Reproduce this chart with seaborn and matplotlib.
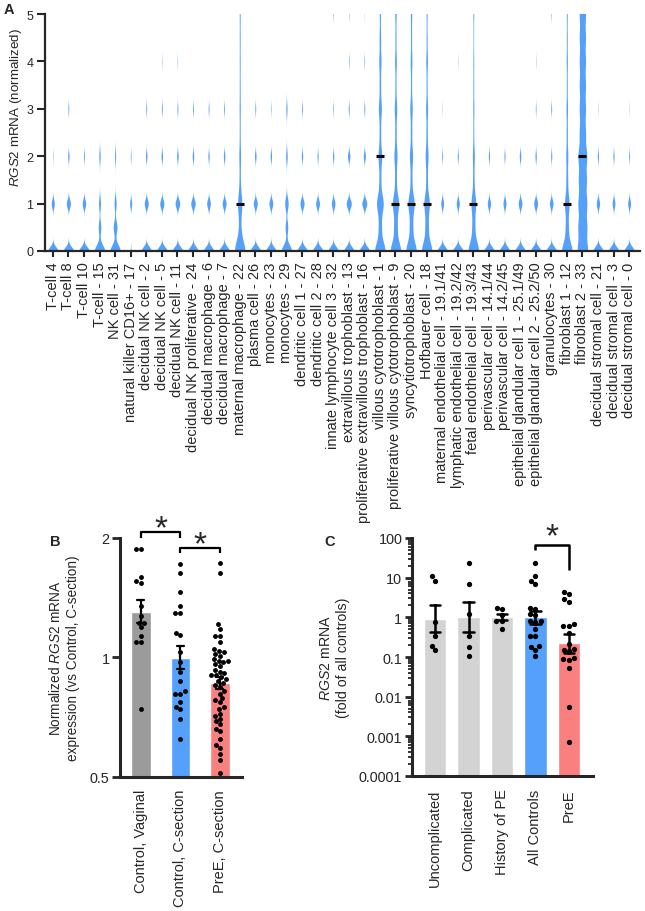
import numpy as np
import pandas as pd
import matplotlib
matplotlib.use('Agg')
import matplotlib.pyplot as plt
import matplotlib.ticker as mtick
import seaborn as sns

# ---- panel A: single-cell RGS2 expression per cluster ----
cell_types = [
    'T-cell 4', 'T-cell 8', 'T-cell 10', 'T-cell - 15', 'NK cell - 31',
    'natural killer CD16+ - 17', 'decidual NK cell - 2', 'decidual NK cell - 5',
    'decidual NK cell - 11', 'decidual NK proliferative - 24',
    'decidual macrophage - 6', 'decidual macrophage - 7',
    'maternal macrophage - 22', 'plasma cell - 26', 'monocytes - 23',
    'monocytes - 29', 'dendritic cell 1 - 27', 'dendritic cell 2 - 28',
    'innate lymphocyte cell 3 - 32', 'extravillous trophoblast - 13',
    'proliferative extravillous trophoblast - 16', 'villous cytotrophoblast - 1',
    'proliferative villous cytotrophoblast - 9', 'syncytiotrophoblast - 20',
    'Hofbauer cell - 18', 'maternal endothelial cell - 19.1/41',
    'lymphatic endothelial cell - 19.2/42', 'fetal endothelial cell - 19.3/43',
    'perivascular cell - 14.1/44', 'perivascular cell - 14.2/45',
    'epithelial glandular cell 1 - 25.1/49', 'epithelial glandular cell 2 - 25.2/50',
    'granulocytes - 30', 'fibroblast 1 - 12', 'fibroblast 2 - 33',
    'decidual stromal cell - 21', 'decidual stromal cell - 3', 'decidual stromal cell - 0',
]
# expression levels and number of cells found at each level (one row per cluster)
levels = [0, 0.5, 1, 1.5, 2, 2.5, 3, 3.5, 4, 4.5, 5, 5.5]
cell_counts = [
    [75, 0, 22, 0, 3, 0, 0, 0, 0, 0, 0, 0],
    [62, 0, 25, 0, 8, 0, 5, 0, 0, 0, 0, 0],
    [70, 0, 24, 0, 6, 0, 0, 0, 0, 0, 0, 0],
    [64, 16, 12, 0, 8, 0, 0, 0, 0, 0, 0, 0],
    [60, 22, 12, 0, 6, 0, 0, 0, 0, 0, 0, 0],
    [4, 0, 12, 0, 4, 0, 0, 0, 0, 0, 0, 0],
    [62, 0, 24, 0, 9, 0, 5, 0, 0, 0, 0, 0],
    [60, 0, 24, 0, 9, 0, 5, 0, 2, 0, 0, 0],
    [58, 0, 26, 0, 9, 0, 5, 0, 2, 0, 0, 0],
    [60, 0, 26, 0, 9, 0, 5, 0, 0, 0, 0, 0],
    [64, 0, 23, 0, 8, 0, 5, 0, 0, 0, 0, 0],
    [62, 0, 24, 0, 9, 0, 5, 0, 0, 0, 0, 0],
    [40, 7, 16, 4, 6, 3, 4, 3, 3, 3, 3, 8],
    [62, 0, 24, 0, 9, 0, 5, 0, 0, 0, 0, 0],
    [64, 0, 24, 0, 9, 0, 3, 0, 0, 0, 0, 0],
    [54, 14, 18, 0, 8, 0, 6, 0, 0, 0, 0, 0],
    [62, 0, 25, 0, 8, 0, 5, 0, 0, 0, 0, 0],
    [68, 0, 25, 0, 7, 0, 0, 0, 0, 0, 0, 0],
    [63, 0, 22, 0, 8, 0, 4, 0, 0, 0, 3, 0],
    [52, 0, 26, 0, 12, 0, 5, 0, 3, 0, 2, 0],
    [54, 0, 26, 0, 11, 0, 5, 0, 3, 0, 1, 0],
    [28, 8, 18, 5, 10, 4, 8, 4, 6, 4, 3, 2],
    [30, 10, 18, 5, 9, 4, 7, 3, 5, 3, 4, 2],
    [30, 9, 18, 5, 9, 4, 7, 3, 5, 3, 4, 3],
    [32, 10, 17, 5, 9, 4, 6, 3, 5, 3, 3, 3],
    [72, 0, 20, 0, 6, 0, 2, 0, 0, 0, 0, 0],
    [70, 0, 21, 0, 7, 0, 0, 0, 2, 0, 0, 0],
    [38, 10, 17, 5, 7, 3, 4, 3, 3, 2, 3, 5],
    [70, 0, 22, 0, 8, 0, 0, 0, 0, 0, 0, 0],
    [72, 0, 21, 0, 7, 0, 0, 0, 0, 0, 0, 0],
    [66, 0, 24, 0, 10, 0, 0, 0, 0, 0, 0, 0],
    [62, 0, 24, 0, 8, 0, 4, 0, 2, 0, 0, 0],
    [63, 0, 22, 0, 7, 0, 5, 0, 0, 0, 3, 0],
    [36, 10, 16, 6, 7, 4, 5, 3, 4, 3, 3, 3],
    [12, 10, 10, 9, 10, 7, 7, 7, 7, 7, 7, 7],
    [68, 0, 22, 0, 8, 0, 2, 0, 0, 0, 0, 0],
    [72, 0, 20, 0, 8, 0, 0, 0, 0, 0, 0, 0],
    [72, 0, 20, 0, 6, 0, 2, 0, 0, 0, 0, 0],
]
medians = [0, 0, 0, 0, 0, 0, 0, 0, 0, 0, 0, 0, 1, 0, 0, 0, 0, 0, 0, 0, 0,
           2, 1, 1, 1, 0, 0, 1, 0, 0, 0, 0, 0, 1, 2, 0, 0, 0]

# ---- panel B: placental RGS2 by delivery mode ----
b_groups = ['Control, Vaginal', 'Control, C-section', 'PreE, C-section']
b_vaginal = [1.88, 1.88, 1.59, 1.56, 1.54, 1.35, 1.27, 1.22, 1.22, 1.19, 1.13,
             1.09, 1.09, 0.74]
b_control_cs = [1.72, 1.63, 1.46, 1.35, 1.29, 1.29, 1.15, 1.14, 1.03, 0.97, 0.92,
                0.87, 0.82, 0.81, 0.81, 0.77, 0.75, 0.74, 0.70, 0.62]
b_pree_cs = [1.73, 1.63, 1.21, 1.18, 1.13, 1.13, 1.09, 1.05, 1.04, 1.03, 1.02,
             1.01, 0.99, 0.98, 0.98, 0.97, 0.96, 0.95, 0.93, 0.92, 0.91, 0.90,
             0.90, 0.89, 0.88, 0.87, 0.86, 0.85, 0.84, 0.82, 0.81, 0.79, 0.78,
             0.77, 0.75, 0.74, 0.72, 0.71, 0.70, 0.69, 0.68, 0.66, 0.65, 0.62,
             0.60, 0.59, 0.57, 0.55, 0.51]
b_ticks = [0.5, 1, 2]

# ---- panel C: RGS2 fold of all controls ----
c_groups = ['Uncomplicated', 'Complicated', 'History of PE', 'All Controls', 'PreE']
c_uncomplicated = [10.8, 8.4, 0.78, 0.33, 0.19, 0.15]
c_complicated = [23.4, 6.9, 1.21, 0.33, 0.175, 0.104]
c_history_pe = [1.75, 1.62, 1.15, 0.82, 0.82, 0.51]
c_pree = [4.4, 3.9, 2.9, 2.5, 0.68, 0.62, 0.62, 0.40, 0.21, 0.16, 0.15, 0.14,
          0.095, 0.09, 0.085, 0.052, 0.0056, 0.0007]
c_ticks = [0.0001, 0.001, 0.01, 0.1, 1, 10, 100]
c_tick_labels = ['0.0001', '0.001', '0.01', '0.1', '1', '10', '100']

blue = '#55A0FA'
red = '#FA8080'
dark_gray = '#9B9B9B'
light_gray = '#D3D3D3'

sns.set_style('ticks')
plt.rcParams['font.family'] = ['Liberation Sans', 'DejaVu Sans']
plt.rcParams['mathtext.fontset'] = 'custom'
plt.rcParams['mathtext.it'] = 'Liberation Sans:italic'
plt.rcParams['mathtext.rm'] = 'Liberation Sans'

W, H = 645, 912


def box(left, top, right, bottom):
    # pixel box -> figure fraction rectangle
    return [left / W, 1 - bottom / H, (right - left) / W, (bottom - top) / H]


def kernel_width(frac, lo, hi):
    # absolute kernel width: a share of the spread, kept between lo and hi
    def factor(kde):
        sd = np.std(kde.dataset, ddof=1)
        return np.clip(frac * sd, lo, hi) / sd
    return factor


# log axes drawn as linear distance above the axis floor, so bars start at the floor
def b_scale(v):
    return np.log2(np.asarray(v, dtype=float) / b_ticks[0])


def c_scale(v):
    return np.log10(np.asarray(v, dtype=float) / c_ticks[0])


def bracket(ax, x0, x1, y, y0, y1, star_y, lw):
    ax.plot([x0, x0, x1, x1], [y0, y, y, y1], color='black', lw=lw,
            clip_on=False, solid_capstyle='butt')
    ax.text((x0 + x1) / 2, star_y, '*', ha='center', va='center',
            fontsize=24, clip_on=False)


fig = plt.figure(figsize=(W / 100, H / 100), dpi=100)

# ---------------- A ----------------
ax_a = fig.add_axes(box(45, 15, 640, 252))
frames = [pd.DataFrame({'cell': name, 'expr': np.repeat(levels, row)})
          for name, row in zip(cell_types, cell_counts)]
df_a = pd.concat(frames, ignore_index=True)
# clusters with cells between whole levels get a wider kernel
smooth = [name for name, row in zip(cell_types, cell_counts) if sum(row[1::2]) > 0]
spiky = [name for name in cell_types if name not in smooth]

for group, bw in ((spiky, kernel_width(0, 0.09, 0.09)),
                  (smooth, kernel_width(0.12, 0.13, 0.24))):
    sns.violinplot(data=df_a[df_a['cell'].isin(group)], x='cell', y='expr',
                   order=cell_types, color=blue, saturation=1, inner=None,
                   cut=3, density_norm='count', bw_method=bw,
                   gridsize=600, width=0.66, linewidth=0, ax=ax_a)

med_df = pd.DataFrame({'cell': cell_types, 'median': medians})
sns.pointplot(data=med_df[med_df['median'] > 0], x='cell', y='median',
              order=cell_types, color='black', marker='_', markersize=6,
              markeredgewidth=2.2, linestyle='none', errorbar=None, ax=ax_a)

ax_a.set_xlim(-0.5, 37.7)
ax_a.set_ylim(0, 5)
ax_a.set_yticks(range(6))
ax_a.set_xlabel('')
ax_a.set_ylabel(r'$\mathit{RGS2}$ mRNA (normalized)', fontsize=9.6)
ax_a.yaxis.set_label_coords(-0.036, 0.61)
ax_a.tick_params(axis='x', labelrotation=90, labelsize=10.5, length=4.5, width=1.5, pad=3)
ax_a.tick_params(axis='y', labelsize=9, length=5.5, width=1.5, pad=3)
for s in ['left', 'bottom']:
    ax_a.spines[s].set_linewidth(1.6)
sns.despine(ax=ax_a)

# ---------------- B ----------------
ax_b = fig.add_axes(box(120, 539, 242, 777.5))
b_sets = [b_vaginal, b_control_cs, b_pree_cs]
df_b = pd.DataFrame({
    'group': np.repeat(b_groups, [len(v) for v in b_sets]),
    'rgs2': b_scale(np.concatenate(b_sets)),
})
sns.barplot(data=df_b, x='group', y='rgs2', hue='group', order=b_groups,
            hue_order=b_groups, palette=[dark_gray, blue, red], saturation=1,
            width=0.5, errorbar='se', capsize=0.18, legend=False,
            err_kws={'color': 'black', 'linewidth': 1.6}, ax=ax_b)
sns.swarmplot(data=df_b, x='group', y='rgs2', order=b_groups, color='black',
              size=3.5, ax=ax_b)
ax_b.set_ylim(b_scale(b_ticks[0]), b_scale(b_ticks[-1]))
ax_b.set_yticks(b_scale(b_ticks), ['0.5', '1', '2'])
ax_b.set_xlim(-0.53, 2.56)
ax_b.set_xlabel('')
ax_b.set_ylabel('Normalized $\\mathit{RGS2}$ mRNA\nexpression (vs Control, C-section)',
                fontsize=9.8, labelpad=7, linespacing=1.25)
ax_b.tick_params(axis='x', labelrotation=90, labelsize=10.5, length=0, pad=9)
ax_b.tick_params(axis='y', labelsize=10.4, length=5.5, width=2, pad=2)
for s in ['left', 'bottom']:
    ax_b.spines[s].set_linewidth(2.2)
sns.despine(ax=ax_b)
bracket(ax_b, 0, 1, b_scale(2.075), b_scale(2.0), b_scale(2.0), b_scale(2.11), 1.6)
bracket(ax_b, 1, 2, b_scale(1.887), b_scale(1.836), b_scale(1.836), b_scale(1.92), 1.6)

# ---------------- C ----------------
ax_c = fig.add_axes(box(412, 539, 593, 777))
c_all = c_uncomplicated + c_complicated + c_history_pe
c_sets = [c_uncomplicated, c_complicated, c_history_pe, c_all, c_pree]
df_c = pd.DataFrame({
    'group': np.repeat(c_groups, [len(v) for v in c_sets]),
    'fold': c_scale(np.concatenate(c_sets)),
})
sns.barplot(data=df_c, x='group', y='fold', hue='group', order=c_groups,
            hue_order=c_groups, palette=[light_gray, light_gray, light_gray, blue, red],
            saturation=1, width=0.67, errorbar='se', capsize=0.32, legend=False,
            err_kws={'color': 'black', 'linewidth': 1.8}, ax=ax_c)
sns.swarmplot(data=df_c, x='group', y='fold', order=c_groups, color='black',
              size=3.8, ax=ax_c)
ax_c.set_ylim(c_scale(c_ticks[0]), c_scale(c_ticks[-1]))
ax_c.set_yticks(c_scale(c_ticks), c_tick_labels)
minor = [k * t for t in c_ticks[:-1] for k in range(2, 10)]
ax_c.yaxis.set_minor_locator(mtick.FixedLocator(c_scale(minor)))
ax_c.set_xlim(-0.69, 4.72)
ax_c.set_xlabel('')
ax_c.set_ylabel('$\\mathit{RGS2}$ mRNA\n(fold of all controls)', fontsize=10.2,
                labelpad=6, linespacing=1.3)
ax_c.tick_params(axis='x', labelrotation=90, labelsize=10.5, length=0, pad=9)
ax_c.tick_params(axis='y', which='major', labelsize=10.4, length=5, width=2, pad=2)
ax_c.tick_params(axis='y', which='minor', length=3, width=1.3)
for s in ['left', 'bottom']:
    ax_c.spines[s].set_linewidth(2.2)
sns.despine(ax=ax_c)
bracket(ax_c, 3, 4, c_scale(66), c_scale(50), c_scale(15.6), c_scale(108), 1.8)

# panel letters
fig.text(9 / W, 1 - 10 / H, 'A', fontsize=10.5, weight='bold', ha='center', va='center')
fig.text(55 / W, 1 - 542 / H, 'B', fontsize=10.5, weight='bold', ha='center', va='center')
fig.text(330 / W, 1 - 542 / H, 'C', fontsize=10.5, weight='bold', ha='center', va='center')

fig.savefig('out.png', dpi=100)
